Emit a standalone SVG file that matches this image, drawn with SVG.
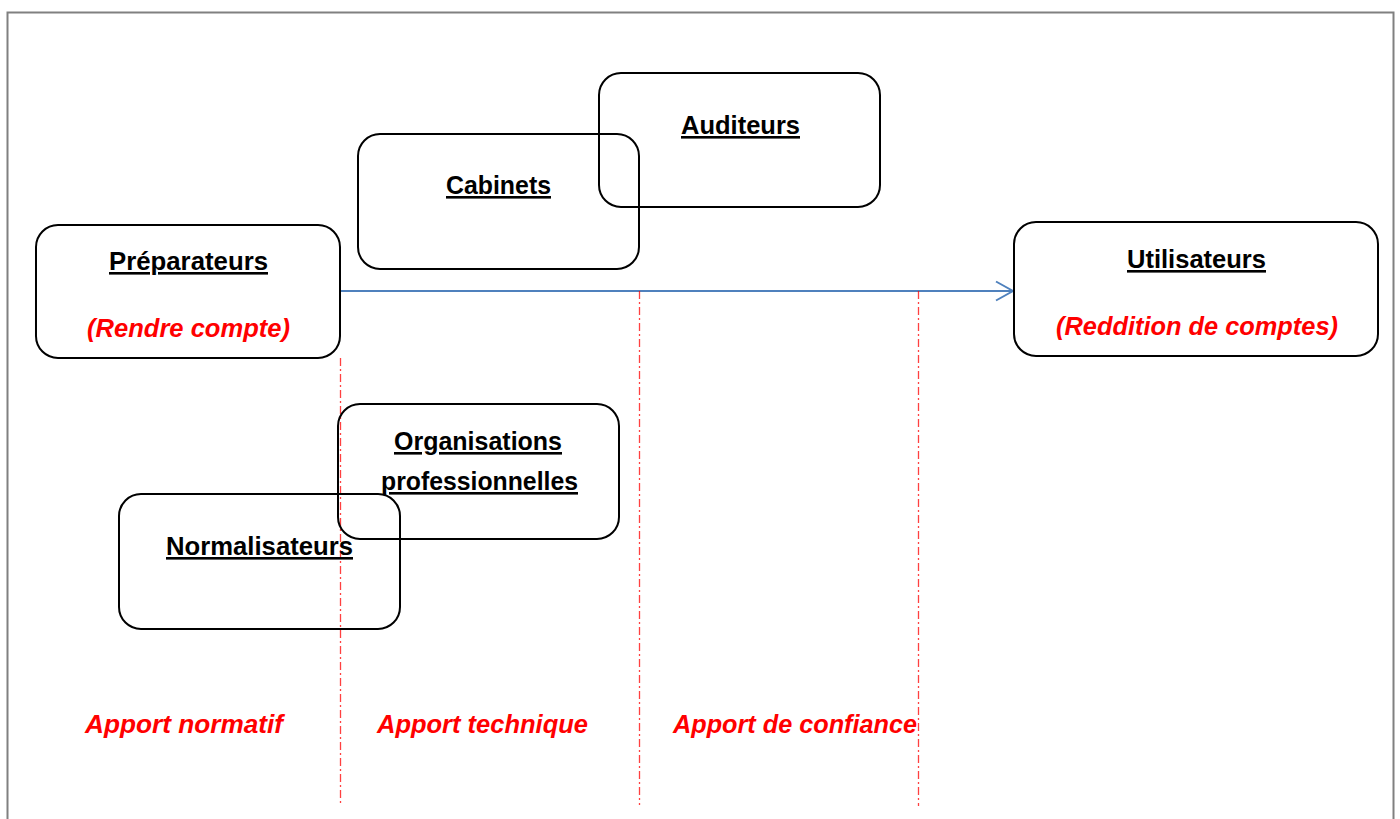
<svg xmlns="http://www.w3.org/2000/svg" width="1400" height="819" viewBox="0 0 1400 819">
<defs>
<style>
.box{fill:none;stroke:#000;stroke-width:2}
.t{font-family:"Liberation Sans",Arial,sans-serif;font-weight:bold;font-size:26px;fill:#000;text-anchor:middle;text-decoration:underline}
.r{font-family:"Liberation Sans",Arial,sans-serif;font-weight:bold;font-style:italic;font-size:26px;fill:#ff0000;text-anchor:middle}
.sep{stroke:#ff0000;stroke-opacity:0.75;stroke-width:1.3;stroke-dasharray:8 3 2 3;fill:none}
.arr{stroke:#4f81bd;stroke-width:2;fill:none}
</style>
<marker id="ah" markerWidth="20" markerHeight="22" refX="18" refY="11" orient="auto" markerUnits="userSpaceOnUse">
<path d="M1,1.5 L18,11 L1,20.5" fill="none" stroke="#4f81bd" stroke-width="2"/>
</marker>
</defs>
<rect x="0" y="0" width="1400" height="819" fill="#fff"/>
<rect x="7.5" y="12.5" width="1386" height="820" fill="none" stroke="#808080" stroke-width="2"/>
<g id="connectors">
<line class="arr" x1="341" y1="291" x2="1013" y2="291" marker-end="url(#ah)"/>
<line class="sep" x1="340.5" y1="358" x2="340.5" y2="806"/>
<line class="sep" x1="639.5" y1="291" x2="639.5" y2="805"/>
<line class="sep" x1="918.5" y1="291" x2="918.5" y2="806"/>
</g>
<g id="preparateurs">
<rect class="box" x="36" y="225" width="304" height="133" rx="22"/>
<text class="t" x="188.5" y="270" textLength="159" lengthAdjust="spacingAndGlyphs">Préparateurs</text>
<text class="r" x="188.5" y="337" textLength="203" lengthAdjust="spacingAndGlyphs">(Rendre compte)</text>
</g>
<g id="cabinets">
<rect class="box" x="358" y="134" width="281" height="135" rx="22"/>
<text class="t" x="498.5" y="194" textLength="105" lengthAdjust="spacingAndGlyphs">Cabinets</text>
</g>
<g id="auditeurs">
<rect class="box" x="599" y="73" width="281" height="134" rx="22"/>
<text class="t" x="740.5" y="134" textLength="119" lengthAdjust="spacingAndGlyphs">Auditeurs</text>
</g>
<g id="utilisateurs">
<rect class="box" x="1014" y="222" width="364" height="134" rx="22"/>
<text class="t" x="1196.5" y="268" textLength="139" lengthAdjust="spacingAndGlyphs">Utilisateurs</text>
<text class="r" x="1197" y="335" textLength="282" lengthAdjust="spacingAndGlyphs">(Reddition de comptes)</text>
</g>
<g id="organisations">
<rect class="box" x="338" y="404" width="281" height="135" rx="22"/>
<text class="t" x="478" y="450" textLength="168" lengthAdjust="spacingAndGlyphs">Organisations</text>
<text class="t" x="479.5" y="490" textLength="197" lengthAdjust="spacingAndGlyphs">professionnelles</text>
</g>
<g id="normalisateurs">
<rect class="box" x="119" y="494" width="281" height="135" rx="22"/>
<text class="t" x="259.5" y="555" textLength="187" lengthAdjust="spacingAndGlyphs">Normalisateurs</text>
</g>
<g id="labels">
<text class="r" x="184" y="733" textLength="198" lengthAdjust="spacingAndGlyphs">Apport normatif</text>
<text class="r" x="482.5" y="733" textLength="211" lengthAdjust="spacingAndGlyphs">Apport technique</text>
<text class="r" x="795" y="733" textLength="244" lengthAdjust="spacingAndGlyphs">Apport de confiance</text>
</g>
</svg>
